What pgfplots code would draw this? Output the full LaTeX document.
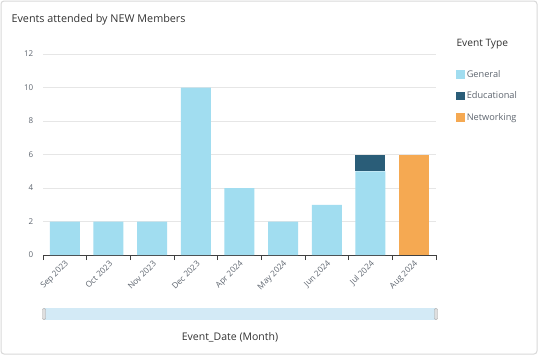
\documentclass[border=0pt]{standalone}
\usepackage{pgfplots}
\pgfplotsset{compat=1.18}
\usepackage{fontspec}
\setmainfont{Open Sans}
\definecolor{cGen}{HTML}{A1DDF0}
\definecolor{cEdu}{HTML}{2A5D78}
\definecolor{cNet}{HTML}{F5A952}
\definecolor{txt}{HTML}{333333}
\definecolor{lbl}{HTML}{5F6670}
\definecolor{gridc}{HTML}{E6E6E6}
\definecolor{scroll}{HTML}{D3EAF6}
\pgfplotstableread{
x gen edu net
0 2 0 0
1 2 0 0
2 2 0 0
3 10 0 0
4 4 0 0
5 2 0 0
6 3 0 0
7 5 1 0
8 0 0 6
}\events
\begin{document}
\begin{tikzpicture}[x=1pt,y=1pt]
\useasboundingbox (0,0) rectangle (539,-357);
\fill[white] (0,0) rectangle (539,-357);
\draw[gray!30, line width=1pt, rounded corners=3pt] (1,-1) rectangle (537,-354);
\node[anchor=west, text=txt, font=\fontsize{10.8}{12}\selectfont] at (8,-20) {Events attended by NEW Members};
\begin{axis}[
  at={(43pt,-255pt)}, anchor=south west,
  scale only axis, width=393pt, height=201pt,
  xmin=-0.5, xmax=8.5, ymin=0, ymax=12,
  ybar stacked, bar width=30pt,
  axis x line*=bottom, axis y line*=left,
  y axis line style={draw=none},
  x axis line style={draw=black!75, line width=0.8pt},
  ytick={0,2,...,12}, ytick style={draw=none},
  ymajorgrids, grid style={draw=gridc, line width=0.6pt},
  xtick={0,...,8},
  xticklabels={Sep 2023,Oct 2023,Nov 2023,Dec 2023,Apr 2024,May 2024,Jun 2024,Jul 2024,Aug 2024},
  xtick style={draw=none},
  minor xtick={-0.5,0.5,...,8.5},
  minor tick length=5pt, tick align=outside,
  minor x tick style={draw=black!75, line width=0.8pt},
  /pgf/number format/assume math mode=true,
  x tick label style={rotate=45, anchor=east, font=\fontsize{8.2}{9}\selectfont, text=lbl, xshift=3pt, yshift=-4pt},
  y tick label style={font=\fontsize{8}{9}\selectfont, text=lbl, xshift=-2pt},
  legend style={at={(rel axis cs:1,1)}, anchor=north west, xshift=20pt, yshift=-14pt, draw=none, fill=none,
    font=\fontsize{9.2}{10}\selectfont, text=lbl, row sep=9pt, inner sep=0pt, cells={anchor=west}},
  legend image code/.code={\fill[#1] (0pt,-4.3pt) rectangle (8.6pt,4.3pt);},
  clip=false,
]
\addplot[fill=cGen, draw=none] table[x=x, y=gen] {\events};
\addplot[fill=cEdu, draw=none] table[x=x, y=edu] {\events};
\addplot[fill=cNet, draw=none] table[x=x, y=net] {\events};
\legend{General,Educational,Networking}
\end{axis}
\node[anchor=west, text=txt, font=\fontsize{10.2}{11}\selectfont] at (453,-44) {Event Type};
\fill[scroll] (44,-308) rectangle (436,-320);
\draw[gray!70, fill=gray!25, rounded corners=1pt] (42.5,-308.5) rectangle (45.5,-319.5);
\draw[gray!70, fill=gray!25, rounded corners=1pt] (434.5,-308.5) rectangle (437.5,-319.5);
\node[text=txt, font=\fontsize{10.5}{12}\selectfont] at (230,-337) {Event\_Date (Month)};
\end{tikzpicture}
\end{document}
